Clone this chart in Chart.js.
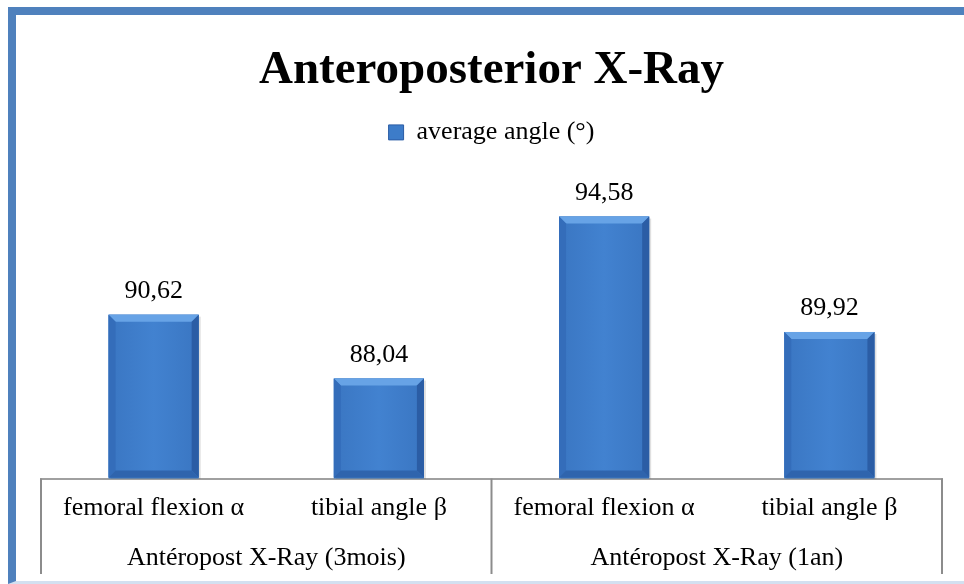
<!DOCTYPE html>
<html>
<head>
<meta charset="utf-8">
<script src="https://cdn.jsdelivr.net/npm/chart.js@4"></script>
<style>
  html, body { margin: 0; padding: 0; background: #fff; overflow: hidden; }
  #frame {
    position: absolute; left: 8px; top: 7px; width: 1000px; height: 566px;
    border-left: 8px solid #4f81bd; border-top: 8px solid #4f81bd;
    border-bottom: 3px solid #d3e0f0;
  }
  #chart { position: absolute; left: 0; top: 0; }
</style>
</head>
<body>
<div id="frame"></div>
<canvas id="chart" width="964" height="584"></canvas>
<script>
const TITLE = "Anteroposterior X-Ray";
const SERIES_NAME = "average angle (°)";
const CATEGORIES = ["femoral flexion α", "tibial angle β", "femoral flexion α", "tibial angle β"];
const GROUPS = ["Antéropost X-Ray (3mois)", "Antéropost X-Ray (1an)"];
const VALUES = [90.62, 88.04, 94.58, 89.92];
const Y_MIN = 84;
const Y_MAX = 96;

const FONT = '"Liberation Serif", "Times New Roman", serif';
const BAR_BLUE = "#3d7cc9";

function fmt(v) {
  return v.toFixed(2).replace(".", ",");
}

// bevelled look of the bars, drawn over the library's own bar rectangles
const bevelPlugin = {
  id: "bevel",
  afterDatasetsDraw(chart) {
    const ctx = chart.ctx;
    const area = chart.chartArea;
    const b = 7;
    chart.getDatasetMeta(0).data.forEach((bar) => {
      const { x, y, base, width } = bar.getProps(["x", "y", "base", "width"], true);
      const l = x - width / 2, r = x + width / 2, t = y;
      const btm = Math.min(base, area.bottom - 1);
      ctx.save();
      // soft shadow
      ctx.fillStyle = "rgba(0,0,0,0.12)";
      ctx.fillRect(l + 2, t + 2, width, btm - t - 1);
      const g = ctx.createLinearGradient(l, 0, r, 0);
      g.addColorStop(0, "#3a76c2");
      g.addColorStop(0.5, "#4282d0");
      g.addColorStop(1, "#3a76c2");
      ctx.fillStyle = g;
      ctx.fillRect(l, t, width, btm - t);
      // top
      ctx.fillStyle = "#67a3e6";
      ctx.beginPath();
      ctx.moveTo(l, t); ctx.lineTo(r, t); ctx.lineTo(r - b, t + b); ctx.lineTo(l + b, t + b);
      ctx.closePath(); ctx.fill();
      // left
      ctx.fillStyle = "#346dba";
      ctx.beginPath();
      ctx.moveTo(l, t); ctx.lineTo(l + b, t + b); ctx.lineTo(l + b, btm - b); ctx.lineTo(l, btm);
      ctx.closePath(); ctx.fill();
      // right
      ctx.fillStyle = "#2b5da5";
      ctx.beginPath();
      ctx.moveTo(r, t); ctx.lineTo(r - b, t + b); ctx.lineTo(r - b, btm - b); ctx.lineTo(r, btm);
      ctx.closePath(); ctx.fill();
      // bottom
      ctx.fillStyle = "#2f64ad";
      ctx.beginPath();
      ctx.moveTo(l, btm); ctx.lineTo(l + b, btm - b); ctx.lineTo(r - b, btm - b); ctx.lineTo(r, btm);
      ctx.closePath(); ctx.fill();
      ctx.restore();
    });
  },
};

const valueLabelPlugin = {
  id: "valueLabels",
  afterDatasetsDraw(chart) {
    const ctx = chart.ctx;
    ctx.save();
    ctx.font = "26px " + FONT;
    ctx.fillStyle = "#000";
    ctx.textAlign = "center";
    ctx.textBaseline = "alphabetic";
    chart.getDatasetMeta(0).data.forEach((bar, i) => {
      ctx.fillText(fmt(VALUES[i]), bar.x, bar.y - 17);
    });
    ctx.restore();
  },
};

// table-like boxes under the axis (group separators)
const groupBoxPlugin = {
  id: "groupBox",
  afterDraw(chart) {
    const ctx = chart.ctx;
    const xs = chart.scales.x;
    const area = chart.chartArea;
    const mid = (xs.getPixelForValue(1) + xs.getPixelForValue(2)) / 2;
    const bottom = chart.scales.x2.bottom - 5;
    ctx.save();
    ctx.strokeStyle = "#8c8c8c";
    ctx.lineWidth = 2;
    [area.left, mid, area.right].forEach((px) => {
      ctx.beginPath();
      ctx.moveTo(px, area.bottom);
      ctx.lineTo(px, bottom);
      ctx.stroke();
    });
    ctx.restore();
  },
};

new Chart(document.getElementById("chart"), {
  type: "bar",
  data: {
    labels: CATEGORIES,
    datasets: [
      {
        label: SERIES_NAME,
        data: VALUES,
        backgroundColor: BAR_BLUE,
        borderWidth: 0,
        categoryPercentage: 1,
        barPercentage: 0.4,
      },
    ],
  },
  options: {
    responsive: false,
    animation: false,
    devicePixelRatio: 1,
    layout: { padding: { top: 16, left: 41, right: 22, bottom: 5 } },
    plugins: {
      tooltip: { enabled: false },
      title: {
        display: true,
        text: TITLE,
        color: "#000",
        font: { family: FONT, size: 47, weight: "bold" },
        padding: { top: 27, bottom: 10 },
      },
      legend: {
        display: true,
        position: "top",
        weight: 1700,
        labels: {
          color: "#000",
          font: { family: FONT, size: 26 },
          boxWidth: 15,
          boxHeight: 15,
          generateLabels: () => [
            { text: SERIES_NAME, fillStyle: BAR_BLUE, strokeStyle: "#2b5da5", lineWidth: 1, fontColor: "#000" },
          ],
        },
      },
      subtitle: {
        display: true,
        text: "",
        font: { size: 10, lineHeight: 1 },
        padding: { top: 8, bottom: 8 },
      },
    },
    scales: {
      y: { display: false, min: Y_MIN, max: Y_MAX },
      x: {
        position: "bottom",
        grid: { display: false, drawTicks: false },
        border: { display: true, color: "#a0a0a0", width: 2 },
        ticks: {
          color: "#000",
          font: { family: FONT, size: 26 },
          padding: 14,
          autoSkip: false,
          maxRotation: 0,
        },
      },
      x2: {
        type: "category",
        position: "bottom",
        labels: GROUPS,
        grid: { display: false, drawTicks: false },
        border: { display: false },
        ticks: {
          color: "#000",
          font: { family: FONT, size: 26 },
          padding: 5,
          autoSkip: false,
          maxRotation: 0,
        },
      },
    },
  },
  plugins: [bevelPlugin, valueLabelPlugin, groupBoxPlugin],
});
</script>
</body>
</html>
